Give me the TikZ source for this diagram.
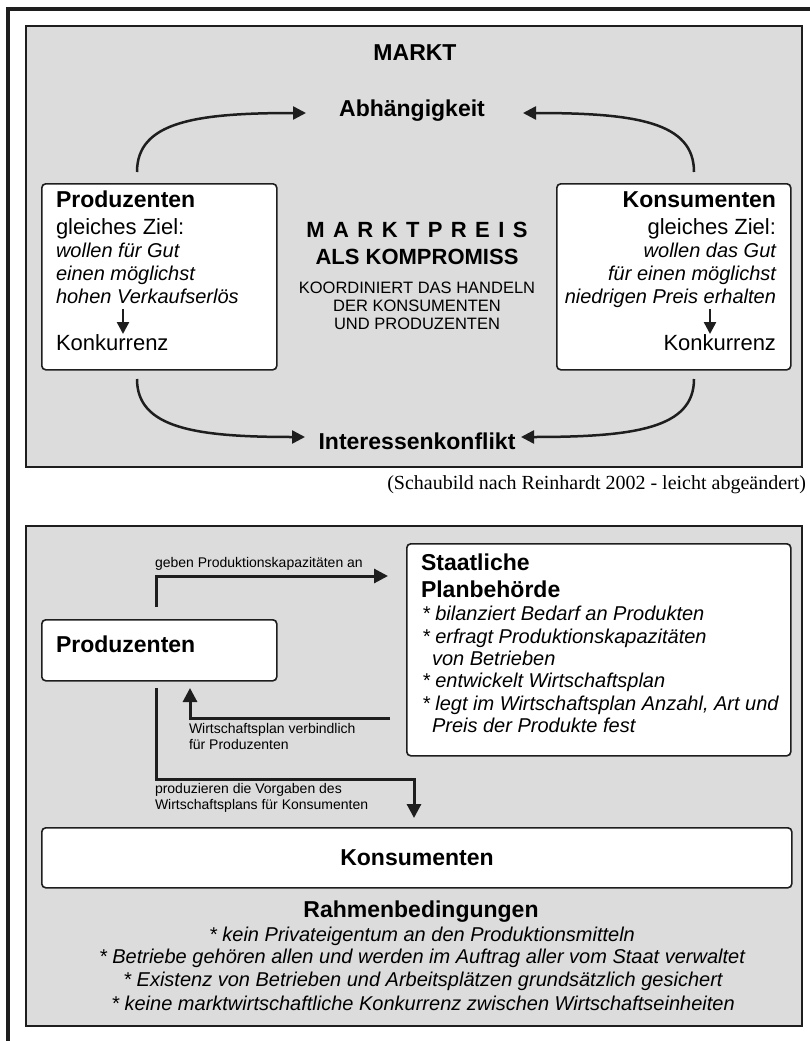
\documentclass[tikz,border=0pt]{standalone}
\usepackage{fontspec}
\setmainfont{Liberation Sans}
\newfontfamily\citefont{Liberation Serif}
\usetikzlibrary{arrows.meta}
\newcommand\fsz[1]{\fontsize{#1}{#1}\selectfont}
\definecolor{panelgray}{RGB}{220,220,220}
\definecolor{linedark}{RGB}{30,30,30}
\begin{document}
\begin{tikzpicture}[x=1pt,y=-1pt,
  panel/.style={fill=panelgray, draw=linedark, line width=2.6pt},
  wbox/.style={fill=white, draw=linedark, line width=1.6pt, rounded corners=4pt, inner sep=0pt, anchor=north west},
  txt/.style={inner sep=0pt, outer sep=0pt},
  hd/.style={txt, font=\fsz{23}\bfseries},
  reg/.style={txt, font=\fsz{22}},
  itx/.style={txt, font=\fsz{20}\itshape},
  bit/.style={txt, font=\fsz{20}\itshape},
  sml/.style={txt, font=\fsz{14}},
  ctr/.style={txt, font=\fsz{16.5}},
  arr/.style={draw=linedark, line width=2.5pt, -{Triangle[length=13pt,width=13pt]}},
  arrsm/.style={draw=linedark, line width=2.5pt, -{Triangle[length=12pt,width=12pt]}},
  arrb/.style={draw=linedark, line width=3pt, -{Triangle[length=14pt,width=14pt]}},
]
\useasboundingbox (0,0) rectangle (809,1041);
% outer frame
\draw[line width=4pt, draw=linedark] (8,1045) -- (8,9) -- (813,9);

% ---------------- top panel ----------------
\draw[panel] (26,26) rectangle (802,467);
\node[hd] (markt) at (415,53) {MARKT};
\node[hd] (abh) at (412,111) {Abhängigkeit};
\node[hd] (konf) at (417,441) {Interessenkonflikt};

\node[wbox, minimum width=235pt, minimum height=186pt] (lbox) at (41,183) {};
\node[wbox, minimum width=234pt, minimum height=186pt] (rbox) at (556,183) {};

% left box texts
\node[hd, anchor=mid west] (lp1) at (56,205) {Produzenten};
\node[reg, anchor=mid west] (lp2) at (56,232) {gleiches Ziel:};
\node[itx, anchor=mid west] (lp3) at (56,255) {wollen für Gut};
\node[itx, anchor=mid west] (lp4) at (56,278) {einen möglichst};
\node[itx, anchor=mid west] (lp5) at (56,301) {hohen Verkaufserlös};
\node[reg, anchor=mid west] (lk) at (56,348) {Konkurrenz};
\coordinate (la0) at (123,309);
\coordinate (la1) at (123,334);
\draw[arrsm] (la0) -- (la1);

% right box texts
\node[hd, anchor=mid east] (rp1) at (776,205) {Konsumenten};
\node[reg, anchor=mid east] (rp2) at (776,232) {gleiches Ziel:};
\node[itx, anchor=mid east] (rp3) at (776,255) {wollen das Gut};
\node[itx, anchor=mid east] (rp4) at (776,278) {für einen möglichst};
\node[itx, anchor=mid east] (rp5) at (776,301) {niedrigen Preis erhalten};
\node[reg, anchor=mid east] (rk) at (776,348) {Konkurrenz};
\coordinate (ra0) at (710,309);
\coordinate (ra1) at (710,334);
\draw[arrsm] (ra0) -- (ra1);

% center texts
\node[txt, font=\fsz{22}\bfseries] (mp) at (417,230) {M\hspace{8.4pt}A\hspace{8.4pt}R\hspace{8.4pt}K\hspace{8.4pt}T\hspace{8.4pt}P\hspace{8.4pt}R\hspace{8.4pt}E\hspace{8.4pt}I\hspace{8.4pt}S};
\node[txt, font=\fsz{22}\bfseries] (komp) at (417,257) {ALS KOMPROMISS};
\node[ctr] (c1) at (417,288) {KOORDINIERT DAS HANDELN};
\node[ctr] (c2) at (417,306) {DER KONSUMENTEN};
\node[ctr] (c3) at (417,324) {UND PRODUZENTEN};

% curved connectors
\coordinate (tlS) at (137,172);
\coordinate (tlE) at (306,113);
\coordinate (trS) at (694,172);
\coordinate (trE) at (523,113);
\coordinate (blS) at (137,379);
\coordinate (blE) at (305,437);
\coordinate (brS) at (694,379);
\coordinate (brE) at (521,437);
\draw[arr] (tlS) .. controls (137,122) and (195,113) .. (tlE);
\draw[arr] (trS) .. controls (694,122) and (636,113) .. (trE);
\draw[arr] (blS) .. controls (137,428) and (195,437) .. (blE);
\draw[arr] (brS) .. controls (694,428) and (636,437) .. (brE);

% citation
\node[txt, font=\citefont\fsz{20}, anchor=mid east] (cite) at (806,487) {(Schaubild nach Reinhardt 2002 - leicht abgeändert)};

% ---------------- bottom panel ----------------
\draw[panel] (26,526) rectangle (802,1026);

\node[wbox, minimum width=235pt, minimum height=61pt] (pbox) at (41,619) {};
\node[hd, anchor=mid west] (ptxt) at (56,650) {Produzenten};

\node[wbox, minimum width=384pt, minimum height=212pt] (sbox) at (406,543) {};
\node[hd, anchor=mid west] (s1) at (421,568) {Staatliche};
\node[hd, anchor=mid west] (s2) at (421,595) {Planbehörde};
\node[bit, anchor=mid west] (s3) at (422,618) {* bilanziert Bedarf an Produkten};
\node[bit, anchor=mid west] (s4) at (422,641) {* erfragt Produktionskapazitäten};
\node[bit, anchor=mid west] (s5) at (432,663) {von Betrieben};
\node[bit, anchor=mid west] (s6) at (422,685) {* entwickelt Wirtschaftsplan};
\node[bit, anchor=mid west] (s7) at (422,708) {* legt im Wirtschaftsplan Anzahl, Art und};
\node[bit, anchor=mid west] (s8) at (432,730) {Preis der Produkte fest};

\node[wbox, minimum width=750pt, minimum height=60pt] (kbox) at (41,827) {};
\node[hd] (ktxt) at (417,858) {Konsumenten};

\node[hd] (rahmen) at (421,912) {Rahmenbedingungen};
\node[bit] (r1) at (422,936) {* kein Privateigentum an den Produktionsmitteln};
\node[bit] (r2) at (422,958) {* Betriebe gehören allen und werden im Auftrag aller vom Staat verwaltet};
\node[bit] (r3) at (423,981) {* Existenz von Betrieben und Arbeitsplätzen grundsätzlich gesichert};
\node[bit] (r4) at (423,1003) {* keine marktwirtschaftliche Konkurrenz zwischen Wirtschaftseinheiten};

% connectors bottom panel
\coordinate (pUp) at (156,607);
\coordinate (sIn) at (388,576);
\draw[arrb] (pUp) |- (sIn);
\node[sml, anchor=mid west] (l1) at (155,565) {geben Produktionskapazitäten an};

\coordinate (sOut) at (390,718);
\coordinate (pIn) at (190,688);
\draw[arrb] (sOut) -| (pIn);
\node[sml, anchor=mid west] (l2a) at (189,731) {Wirtschaftsplan verbindlich};
\node[sml, anchor=mid west] (l2b) at (189,747) {für Produzenten};

\coordinate (pDown) at (156,688);
\coordinate (kCorner) at (414,779);
\coordinate (kIn) at (414,818);
\draw[arrb] (pDown) |- (kCorner) -- (kIn);
\node[sml, anchor=mid west] (l3a) at (155,791) {produzieren die Vorgaben des};
\node[sml, anchor=mid west] (l3b) at (155,807) {Wirtschaftsplans für Konsumenten};
\end{tikzpicture}
\end{document}
